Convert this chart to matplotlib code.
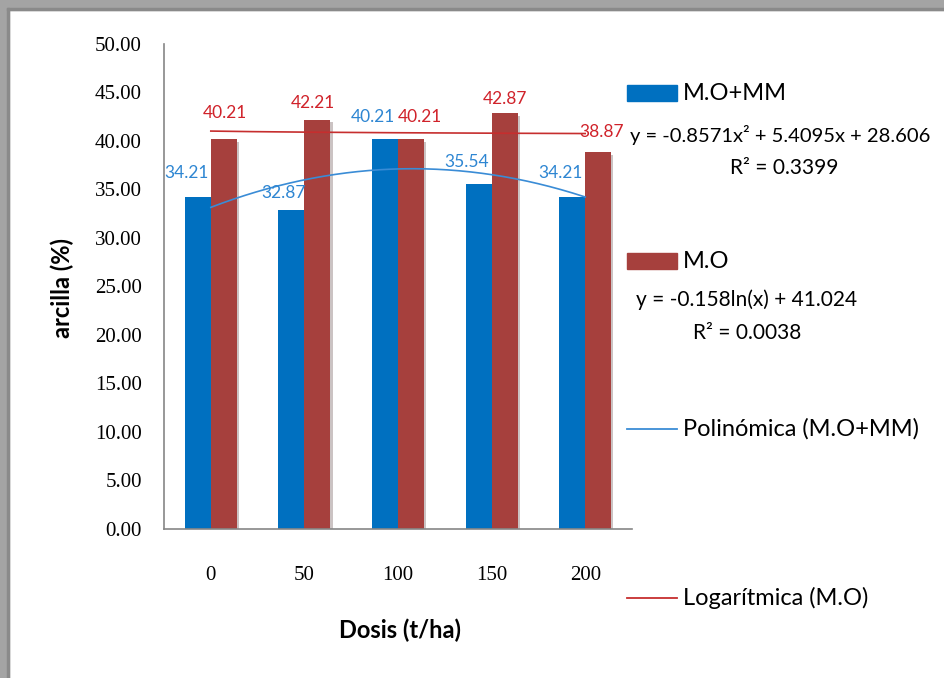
import numpy as np
import matplotlib.pyplot as plt
import matplotlib.patheffects as pe
from matplotlib.patches import Rectangle
from matplotlib.lines import Line2D

# dosis y porcentaje de arcilla por tratamiento
dosis = ["0", "50", "100", "150", "200"]
mo_mm = [34.21, 32.87, 40.21, 35.54, 34.21]
mo = [40.21, 42.21, 40.21, 42.87, 38.87]

# coeficientes de las lineas de tendencia (x = 1..5)
poli = [-0.8571, 5.4095, 28.606]
poli_r2 = 0.3399
log_a, log_b = -0.158, 41.024
log_r2 = 0.0038

azul = "#0070C0"
rojo = "#A6403D"
azul_txt = "#2E86D2"
rojo_txt = "#D0222A"

sans = ["Lato", "DejaVu Sans"]
serif = ["Liberation Serif", "DejaVu Serif"]

W, H = 944, 678
fig = plt.figure(figsize=(W / 100, H / 100), dpi=100)
fig.patch.set_facecolor("white")

def px(x, y):
    return x / W, 1 - y / H

# marco gris
fig.add_artist(Rectangle((0, 0), 9 / W, 1, transform=fig.transFigure, color="#a4a4a4", zorder=0))
fig.add_artist(Rectangle((0, 1 - 10 / H), 1, 10 / H, transform=fig.transFigure, color="#a4a4a4", zorder=0))
fig.add_artist(Rectangle((7 / W, 0), 2 / W, 1 - 8 / H, transform=fig.transFigure, color="#8a8a8a", zorder=0))
fig.add_artist(Rectangle((7 / W, 1 - 10 / H), 1, 2 / H, transform=fig.transFigure, color="#8a8a8a", zorder=0))

ax = fig.add_axes([164 / W, 1 - 529 / H, (632 - 164) / W, (529 - 44) / H])
x = np.arange(len(dosis))
w = 0.278
sombra = [pe.SimplePatchShadow(offset=(1.5, -2), alpha=0.25), pe.Normal()]
b1 = ax.bar(x - w / 2, mo_mm, w, color=azul, zorder=2, path_effects=sombra)
b2 = ax.bar(x + w / 2, mo, w, color=rojo, zorder=2, path_effects=sombra)

# lineas de tendencia
xs = np.linspace(1, 5, 200)
ax.plot(xs - 1, np.polyval(poli, xs), color="#3A8CD6", lw=1.2, zorder=3)
ax.plot(xs - 1, log_a * np.log(xs) + log_b, color="#C62E2E", lw=1.2, zorder=3)

# etiquetas de datos
off_azul = [(-11, 24), (-8, 17), (-12, 22), (-12, 22), (-12, 24)]
off_rojo = [(1, 26), (-5, 17), (9, 22), (0, 14), (3, 20)]
for i in range(len(dosis)):
    ax.annotate(f"{mo_mm[i]:.2f}", (x[i] - w / 2, mo_mm[i]), xytext=off_azul[i],
                textcoords="offset pixels", ha="center", va="center",
                color=azul_txt, fontsize=12.5, family=sans, zorder=4)
    ax.annotate(f"{mo[i]:.2f}", (x[i] + w / 2, mo[i]), xytext=off_rojo[i],
                textcoords="offset pixels", ha="center", va="center",
                color=rojo_txt, fontsize=12.5, family=sans, zorder=4)

ax.set_xlim(-0.5, 4.5)
ax.set_ylim(0, 50)
ax.set_yticks(np.arange(0, 50.1, 5))
ax.set_yticklabels([f"{v:.2f}" for v in np.arange(0, 50.1, 5)], family=serif, fontsize=15)
ax.set_xticks(x)
ax.set_xticklabels(dosis, family=serif, fontsize=15)
ax.tick_params(axis="y", length=0, pad=16)
ax.tick_params(axis="x", length=0, pad=27)
for s in ["top", "right"]:
    ax.spines[s].set_visible(False)
for s in ["left", "bottom"]:
    ax.spines[s].set_color("#868686")
    ax.spines[s].set_linewidth(1.2)

fig.text(*px(400, 630), "Dosis (t/ha)", ha="center", va="center",
         fontsize=17, fontweight="bold", family=sans)
fig.text(*px(62, 288), "arcilla (%)", ha="center", va="center", rotation=90,
         fontsize=17, fontweight="bold", family=sans)

# leyenda con ecuaciones
def parche(y, color):
    fig.add_artist(Rectangle(px(627, y + 8), 50 / W, 16 / H,
                             transform=fig.transFigure, color=color))

def linea(y, color):
    fig.add_artist(Line2D([627 / W, 677 / W], [1 - y / H] * 2,
                          transform=fig.transFigure, color=color, lw=1.3))

parche(93, azul)
fig.text(*px(683, 93), "M.O+MM", va="center", fontsize=17, family=sans)
fig.text(*px(630, 135), "y = -0.8571x² + 5.4095x + 28.606", ha="left",
         va="center", fontsize=14.5, family=sans)
fig.text(*px(784, 168), f"R² = {poli_r2:.4f}", ha="center", va="center",
         fontsize=15, family=sans)

parche(261, rojo)
fig.text(*px(683, 261), "M.O", va="center", fontsize=17, family=sans)
fig.text(*px(747, 300), f"y = {log_a}ln(x) + {log_b}", ha="center",
         va="center", fontsize=15, family=sans)
fig.text(*px(747, 333), f"R² = {log_r2:.4f}", ha="center", va="center",
         fontsize=15, family=sans)

linea(429, "#3A8CD6")
fig.text(*px(683, 429), "Polinómica (M.O+MM)", va="center", fontsize=17, family=sans)
linea(598, "#C62E2E")
fig.text(*px(683, 598), "Logarítmica (M.O)", va="center", fontsize=17, family=sans)

fig.savefig("out.png", dpi=100)
